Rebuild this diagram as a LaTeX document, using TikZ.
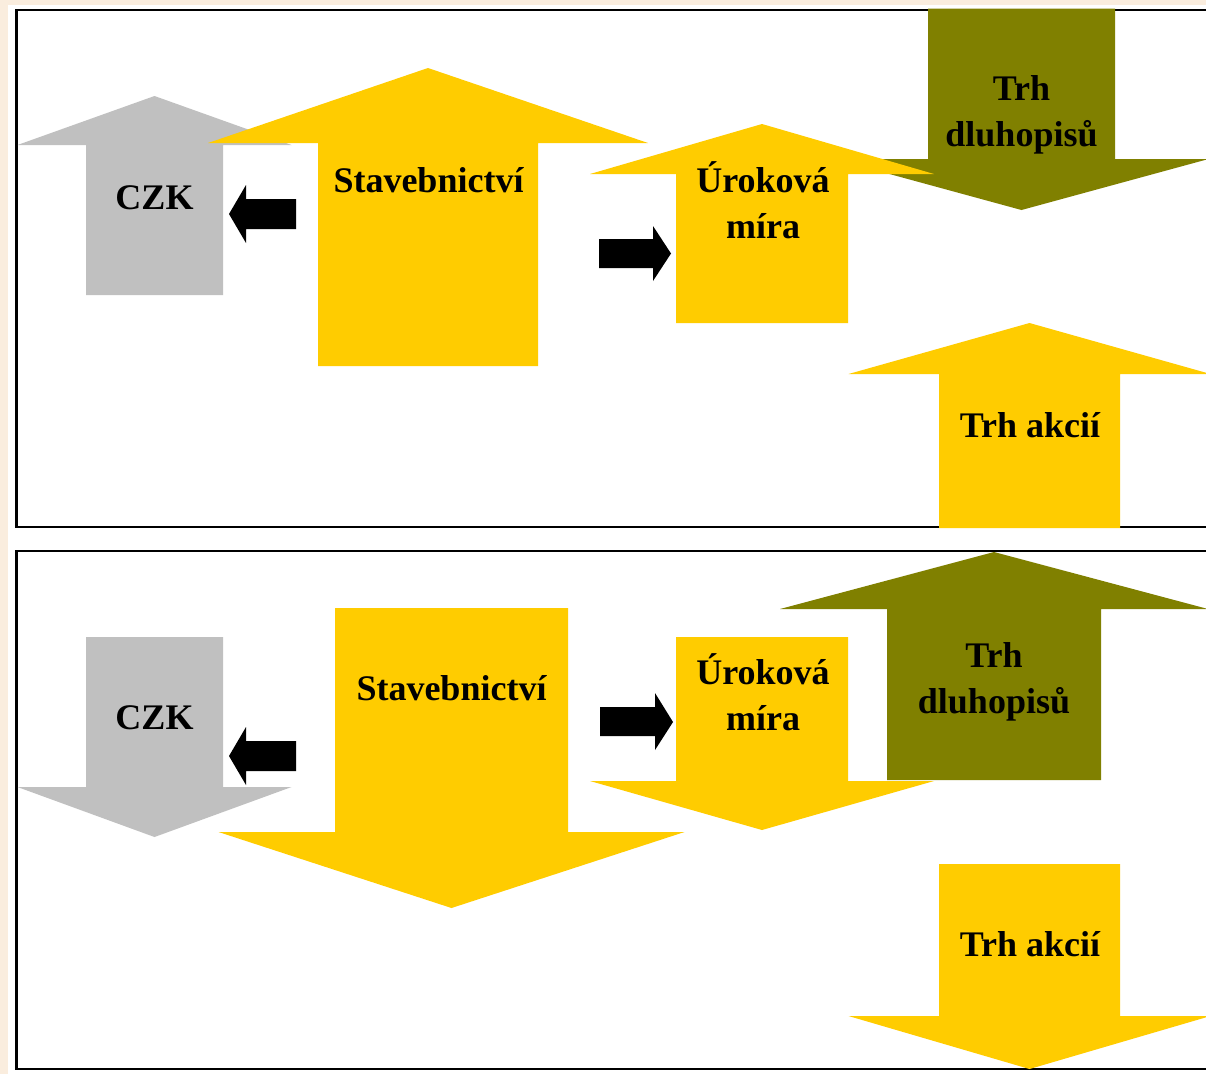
\documentclass[tikz,border=0pt]{standalone}
\usepackage{fontspec}
\setmainfont{Liberation Serif}
\usepackage{tikz}
\definecolor{arrYellow}{HTML}{FFCC00}
\definecolor{arrGray}{HTML}{C0C0C0}
\definecolor{arrOlive}{HTML}{808000}
\definecolor{pageBeige}{HTML}{FAEDDE}
\tikzstyle{yellowarrow} = [fill=arrYellow]
\tikzstyle{grayarrow} = [fill=arrGray]
\tikzstyle{olivearrow} = [fill=arrOlive]
\tikzstyle{push} = [fill=black]
\tikzstyle{panel} = [draw=black, line width=2.5pt]
\tikzstyle{arrowtext} = [font=\bfseries\fontsize{36}{45.5}\selectfont, align=center, anchor=base, inner sep=0pt]
\begin{document}
\begin{tikzpicture}[x=1pt, y=-1pt]
    \useasboundingbox (0,0) rectangle (1206,1074);
    \clip (0,0) rectangle (1206,1074);
    \fill[pageBeige] (0,0) rectangle (1206,1074);
    \fill[white] (8,5) rectangle (1206,1074);

    % Panels
    \draw[panel] (16.5,10) rectangle (1230,527);
    \draw[panel] (16.5,551) rectangle (1230,1069);

    % Upper panel
    \fill[grayarrow] (154.5,96) -- (291.5,145) -- (223,145) -- (223,295) -- (86,295) -- (86,145) -- (17.5,145) -- cycle;
    \fill[yellowarrow] (428,68) -- (648,143) -- (538,143) -- (538,366) -- (318,366) -- (318,143) -- (208,143) -- cycle;
    \fill[olivearrow] (1021.5,210) -- (1208.5,159) -- (1115,159) -- (1115,8.5) -- (928,8.5) -- (928,159) -- (834.5,159) -- cycle;
    \fill[yellowarrow] (762,124) -- (934,174) -- (848,174) -- (848,323) -- (676,323) -- (676,174) -- (590,174) -- cycle;
    \fill[yellowarrow] (1029.5,323) -- (1210.5,374) -- (1120,374) -- (1120,528) -- (939,528) -- (939,374) -- (848.5,374) -- cycle;
    \fill[push] (229,214) -- (246,185) -- (246,199) -- (296,199) -- (296,229) -- (246,229) -- (246,243) -- cycle;
    \fill[push] (671,253.5) -- (653,226) -- (653,239) -- (599,239) -- (599,268) -- (653,268) -- (653,281) -- cycle;

    \node (czk) [arrowtext] at (154.5,209) {CZK};
    \node (stav) [arrowtext] at (428.5,192) {Stavebnictví};
    \node (urok) [arrowtext] at (763,238) {Úroková\\míra};
    \node (dluh) [arrowtext] at (1021.5,146) {Trh\\dluhopisů};
    \node (akcie) [arrowtext] at (1030,437) {Trh akcií};

    % Lower panel
    \fill[grayarrow] (154.5,837) -- (291.5,787) -- (223,787) -- (223,637) -- (86,637) -- (86,787) -- (17.5,787) -- cycle;
    \fill[yellowarrow] (451.5,908) -- (684.5,832) -- (568,832) -- (568,608) -- (335,608) -- (335,832) -- (218.5,832) -- cycle;
    \fill[yellowarrow] (762,830) -- (934,781) -- (848,781) -- (848,637) -- (676,637) -- (676,781) -- (590,781) -- cycle;
    \fill[olivearrow] (994,552) -- (1208,609) -- (1101,609) -- (1101,780) -- (887,780) -- (887,609) -- (780,609) -- cycle;
    \fill[yellowarrow] (1029.5,1069) -- (1210.5,1016) -- (1120,1016) -- (1120,864) -- (939,864) -- (939,1016) -- (848.5,1016) -- cycle;
    \fill[push] (229,756) -- (246,727) -- (246,741) -- (296,741) -- (296,771) -- (246,771) -- (246,785) -- cycle;
    \fill[push] (673,722) -- (655,693) -- (655,707) -- (600,707) -- (600,736) -- (655,736) -- (655,750) -- cycle;

    \node (czk2) [arrowtext] at (154.5,729) {CZK};
    \node (stav2) [arrowtext] at (451.5,700) {Stavebnictví};
    \node (urok2) [arrowtext] at (763,730) {Úroková\\míra};
    \node (dluh2) [arrowtext] at (994,713) {Trh\\dluhopisů};
    \node (akcie2) [arrowtext] at (1030,956) {Trh akcií};
\end{tikzpicture}
\end{document}
